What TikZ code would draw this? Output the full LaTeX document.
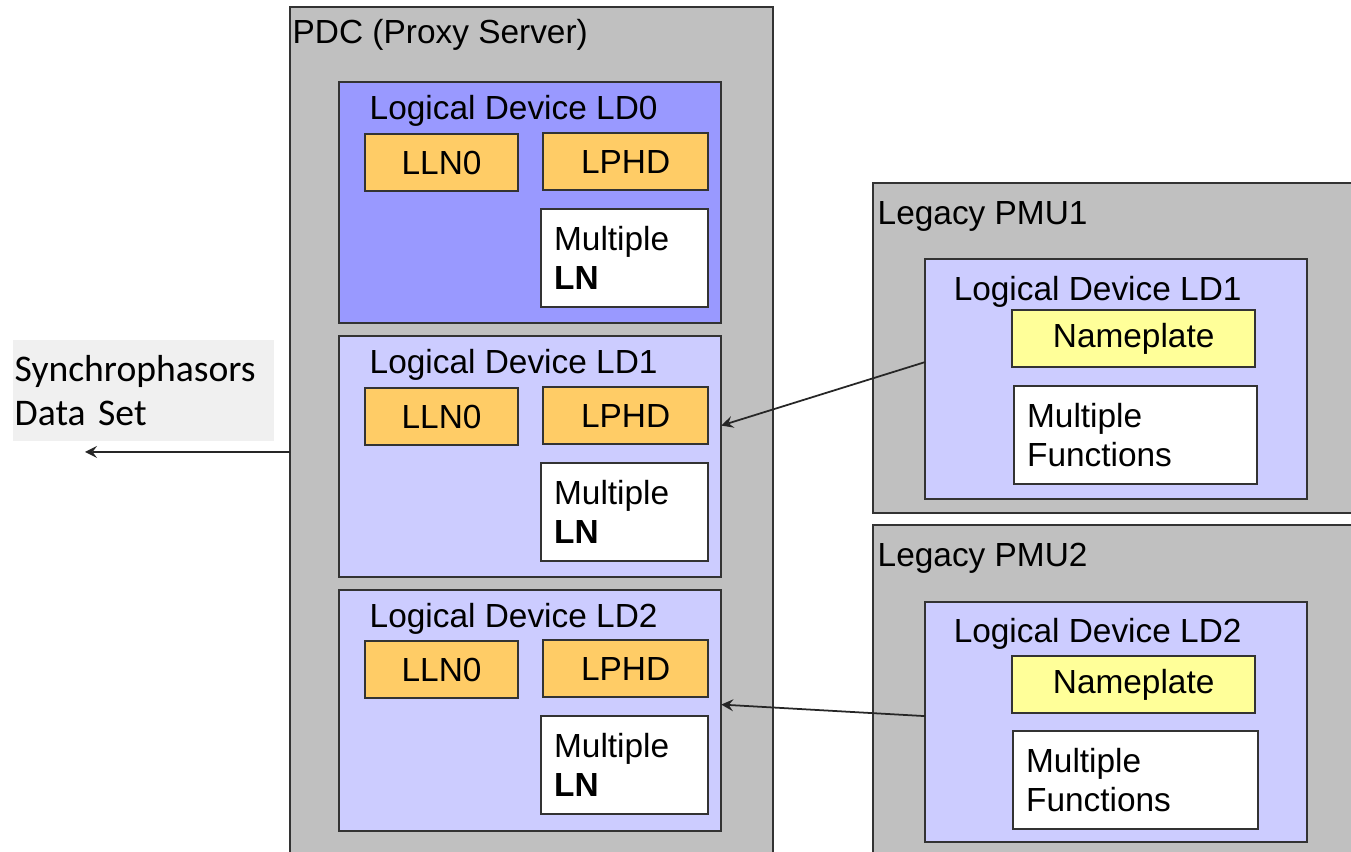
\documentclass[tikz,border=0pt]{standalone}
\usepackage{fontspec}
\setmainfont{Liberation Sans}
\newfontfamily\calibri{Carlito}
\usetikzlibrary{positioning, arrows}

\definecolor{boxgray}{HTML}{C0C0C0}
\definecolor{ldblue}{HTML}{9999FF}
\definecolor{ldlight}{HTML}{CCCCFF}
\definecolor{lnorange}{HTML}{FFCC66}
\definecolor{plateyellow}{HTML}{FFFF99}
\definecolor{setgray}{HTML}{F0F0F0}
\definecolor{edge}{HTML}{333333}

\tikzstyle{base} = [rectangle, inner sep=0pt, outer sep=0pt, draw=edge, line width=0.5pt, anchor=north west]
\tikzstyle{device} = [base, fill=boxgray]
\tikzstyle{logical} = [base, minimum width=3.82cm, minimum height=2.41cm, fill=ldlight]
\tikzstyle{lnode} = [base, minimum height=0.57cm, text centered, fill=lnorange]
\tikzstyle{nameplate} = [base, minimum width=2.43cm, minimum height=0.57cm, text centered, fill=plateyellow]
\tikzstyle{multiple} = [base, minimum height=0.98cm, fill=white, align=left, inner xsep=0.13cm]
\tikzstyle{title} = [inner sep=0pt, anchor=north west]
\tikzstyle{dataset} = [rectangle, fill=setgray, anchor=north west, inner xsep=0.02cm, align=left, font=\calibri\fontsize{10.7}{12.5}\selectfont]
\tikzstyle{arrow} = [line width=0.5pt, draw=black!85, ->, >=stealth]

\begin{document}
\begin{tikzpicture}[x=0.01cm, y=-0.01cm, font=\fontsize{9.5}{11.1}\selectfont]

    \useasboundingbox (0,0) rectangle (1351,852);
    \fill[white] (0,0) rectangle (1351,852);
    \clip (0,0) rectangle (1351,852);

    % PDC and its logical devices
    \node (pdc) [device, minimum width=4.83cm, minimum height=8.70cm] at (290,7) {};
    \node (pdctitle) [title, below right=0.12cm and 0.02cm of pdc.north west] {PDC (Proxy Server)};

    \node (ldzero) [logical, fill=ldblue] at (339,82) {};
    \node (ldzerotitle) [title, below right=0.13cm and 0.30cm of ldzero.north west] {Logical Device LD0};
    \node (llnzero) [lnode, minimum width=1.53cm, below right=0.52cm and 0.26cm of ldzero.north west] {LLN0};
    \node (lphdzero) [lnode, minimum width=1.65cm, below right=0.51cm and 2.04cm of ldzero.north west] {LPHD};
    \node (lnzero) [multiple, text width=1.41cm, below right=1.27cm and 2.02cm of ldzero.north west] {Multiple\\\textbf{LN}};

    \node (ldone) [logical] at (339,336) {};
    \node (ldonetitle) [title, below right=0.13cm and 0.30cm of ldone.north west] {Logical Device LD1};
    \node (llnone) [lnode, minimum width=1.53cm, below right=0.52cm and 0.26cm of ldone.north west] {LLN0};
    \node (lphdone) [lnode, minimum width=1.65cm, below right=0.51cm and 2.04cm of ldone.north west] {LPHD};
    \node (lnone) [multiple, text width=1.41cm, below right=1.27cm and 2.02cm of ldone.north west] {Multiple\\\textbf{LN}};

    \node (ldtwo) [logical] at (339,590) {};
    \node (ldtwotitle) [title, below right=0.13cm and 0.30cm of ldtwo.north west] {Logical Device LD2};
    \node (llntwo) [lnode, minimum width=1.53cm, below right=0.51cm and 0.26cm of ldtwo.north west] {LLN0};
    \node (lphdtwo) [lnode, minimum width=1.65cm, below right=0.50cm and 2.04cm of ldtwo.north west] {LPHD};
    \node (lntwo) [multiple, text width=1.41cm, below right=1.26cm and 2.02cm of ldtwo.north west] {Multiple\\\textbf{LN}};

    % Legacy PMUs
    \node (pmuone) [device, minimum width=5.00cm, minimum height=3.30cm] at (873,183) {};
    \node (pmuonetitle) [title, below right=0.18cm and 0.04cm of pmuone.north west] {Legacy PMU1};
    \node (pmuoneld) [logical, minimum height=2.40cm, below right=0.76cm and 0.52cm of pmuone.north west] {};
    \node (pmuoneldtitle) [title, below right=0.17cm and 0.28cm of pmuoneld.north west] {Logical Device LD1};
    \node (plateone) [nameplate, below right=0.51cm and 0.87cm of pmuoneld.north west] {Nameplate};
    \node (funcone) [multiple, text width=2.17cm, below right=1.27cm and 0.89cm of pmuoneld.north west] {Multiple\\Functions};

    \node (pmutwo) [device, minimum width=5.00cm, minimum height=3.50cm] at (873,525) {};
    \node (pmutwotitle) [title, below right=0.17cm and 0.04cm of pmutwo.north west] {Legacy PMU2};
    \node (pmutwold) [logical, minimum height=2.40cm, below right=0.77cm and 0.52cm of pmutwo.north west] {};
    \node (pmutwoldtitle) [title, below right=0.16cm and 0.28cm of pmutwold.north west] {Logical Device LD2};
    \node (platetwo) [nameplate, below right=0.54cm and 0.87cm of pmutwold.north west] {Nameplate};
    \node (functwo) [multiple, text width=2.19cm, below right=1.29cm and 0.88cm of pmutwold.north west] {Multiple\\Functions};

    % Data set output
    \node (synchro) [dataset, minimum width=2.61cm, minimum height=1.01cm, text width=2.57cm] at (12,339) {Synchrophasors\\Data Set};
    \coordinate (synchroout) at (85,452);

    % Arrows
    \draw [arrow] ([yshift=0.17cm]pmuoneld.west) -- ([yshift=0.31cm]ldone.east);
    \draw [arrow] ([yshift=0.06cm]pmutwold.west) -- ([yshift=0.06cm]ldtwo.east);
    \draw [arrow] (pdc.west |- synchroout) -- (synchroout);

\end{tikzpicture}
\end{document}
